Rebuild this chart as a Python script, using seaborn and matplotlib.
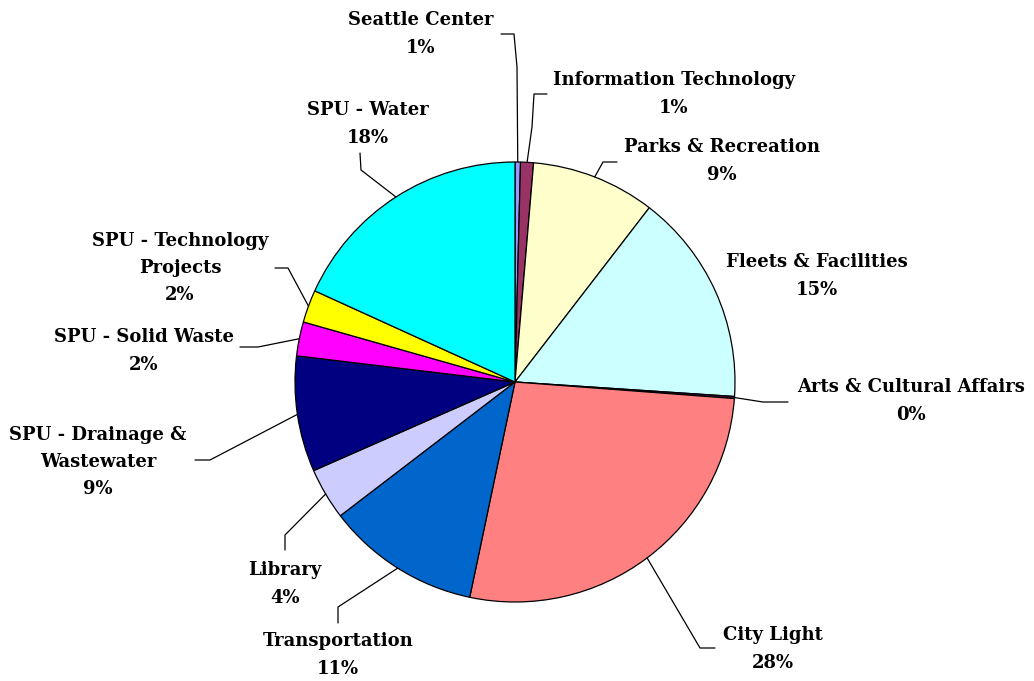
import numpy as np
import matplotlib
matplotlib.use("Agg")
import matplotlib.pyplot as plt
import seaborn as sns

# 부서별 비율 (시계방향, 12시 방향부터)
departments = ["Seattle Center", "Information Technology", "Parks & Recreation",
               "Fleets & Facilities", "Arts & Cultural Affairs", "City Light",
               "Transportation", "Library", "SPU - Drainage &\nWastewater",
               "SPU - Solid Waste", "SPU - Technology\nProjects", "SPU - Water"]
shares = [0.4, 0.95, 9.1, 15.6, 0.15, 27.1, 11.3, 3.8, 8.5, 2.5, 2.4, 18.2]
pct_labels = ["1%", "1%", "9%", "15%", "0%", "28%", "11%", "4%", "9%", "2%", "2%", "18%"]
colors = ["#9999FF", "#993366", "#FFFFCC", "#CCFFFF", "#660066", "#FF8080",
          "#0066CC", "#CCCCFF", "#000080", "#FF00FF", "#FFFF00", "#00FFFF"]

sns.set_theme(style="white")
plt.rcParams['font.family'] = ['DejaVu Serif', 'Liberation Serif']

W, H = 1034, 681
cx, cy, R = 515, H - 382, 220

fig = plt.figure(figsize=(W / 100, H / 100), dpi=100)
ax = fig.add_axes([0, 0, 1, 1])
wedges, _ = ax.pie(shares, colors=colors, startangle=90, counterclock=False,
                   center=(cx, cy), radius=R,
                   wedgeprops=dict(edgecolor="black", linewidth=0.9))
ax.set_xlim(0, W)
ax.set_ylim(0, H)
ax.set_aspect("auto")
ax.axis("off")

# 라벨 위치 (픽셀, 위에서부터) 와 지시선 꺾임점
label_pos = [(421, 34), (674, 94), (722, 161), (817, 276), (911, 401), (773, 649),
             (338, 655), (285, 584), (98, 462), (144, 351), (180, 268), (368, 124)]
elbows = [[(517, 67), (514, 34), (501, 34)],
          [(532, 127), (534, 94), (547, 94)],
          [(603, 162), (617, 162)],
          None,
          [(763, 402), (788, 402)],
          [(700, 648), (715, 648)],
          [(338, 607), (338, 623)],
          [(285, 535), (285, 550)],
          [(210, 460), (195, 460)],
          [(258, 347), (240, 347)],
          [(288, 268), (275, 268)],
          [(361, 170), (360, 153)]]

for w, name, pct, (lx, ly), el in zip(wedges, departments, pct_labels, label_pos, elbows):
    ax.text(lx, H - ly, name + "\n" + pct, ha="center", va="center",
            fontsize=13, fontweight="bold", linespacing=1.65, color="black")
    if el is None:
        continue
    mid = np.deg2rad((w.theta1 + w.theta2) / 2)
    px, py = cx + R * np.cos(mid), cy + R * np.sin(mid)
    xs = [px] + [p[0] for p in el]
    ys = [py] + [H - p[1] for p in el]
    ax.plot(xs, ys, color="black", linewidth=0.9)

fig.savefig("out.png", dpi=100, facecolor="white")
